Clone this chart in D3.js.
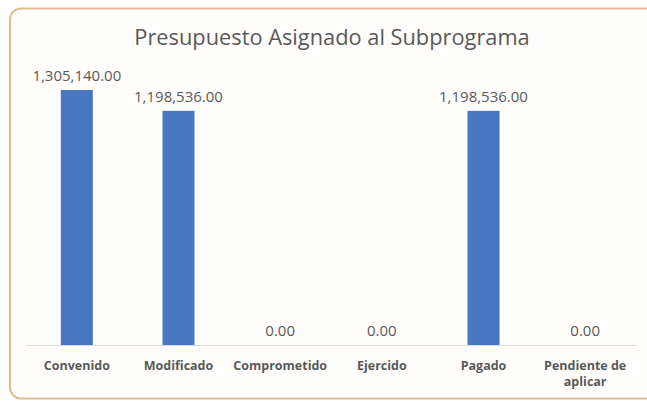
<!DOCTYPE html>
<html><head><meta charset="utf-8">
<script src="https://cdn.jsdelivr.net/npm/d3@7"></script>
<style>body{margin:0;background:#fff;overflow:hidden;}svg{display:block;}</style>
</head><body>
<script>
const categories = ["Convenido","Modificado","Comprometido","Ejercido","Pagado","Pendiente de aplicar"];
const values = [1305140.00, 1198536.00, 0, 0, 1198536.00, 0];
const title = "Presupuesto Asignado al Subprograma";
const yMax = 1400000;

const W = 647, H = 404;
const svg = d3.select("body").append("svg").attr("width", W).attr("height", H);

svg.append("rect").attr("x", 10).attr("y", 8.5).attr("width", 660).attr("height", 390)
  .attr("rx", 11).attr("fill", "#fffefc").attr("stroke", "#e3bb92").attr("stroke-width", 2);

const x = d3.scaleBand().domain(categories).range([26, 636]).paddingInner(0.685).paddingOuter(0.3425);
const y = d3.scaleLinear().domain([0, yMax]).range([345, 71.5]);

svg.append("text").attr("x", 332).attr("y", 45).attr("text-anchor", "middle")
  .attr("font-family", "Open Sans, sans-serif").attr("font-size", 21.8).attr("fill", "#595959")
  .text(title);

svg.selectAll("rect.bar").data(values).enter().append("rect").attr("class", "bar")
  .attr("x", (d, i) => x(categories[i])).attr("width", x.bandwidth())
  .attr("y", d => y(d)).attr("height", d => y(0) - y(d)).attr("fill", "#4677c0");

svg.append("line").attr("x1", 26).attr("x2", 636).attr("y1", y(0) + 0.5).attr("y2", y(0) + 0.5)
  .attr("stroke", "#d9d9d9").attr("stroke-width", 1);

const fmt = d3.format(",.2f");
svg.selectAll("text.lbl").data(values).enter().append("text").attr("class", "lbl")
  .attr("x", (d, i) => x(categories[i]) + x.bandwidth() / 2).attr("y", d => y(d) - 9)
  .attr("text-anchor", "middle").attr("font-family", "Open Sans, sans-serif").attr("font-size", 15)
  .attr("fill", "#595959").text(d => fmt(d));

const axis = d3.axisBottom(x).tickSize(0).tickPadding(0);
const g = svg.append("g").attr("transform", `translate(0,${y(0)})`).call(axis);
g.select(".domain").remove();
g.selectAll(".tick text").remove();
g.selectAll(".tick").each(function(d) {
  const t = d3.select(this).append("text").attr("text-anchor", "middle")
    .attr("font-family", "Open Sans, sans-serif").attr("font-size", 12.5).attr("font-weight", "bold")
    .attr("fill", "#595959").attr("y", 25);
  const parts = d === "Pendiente de aplicar" ? ["Pendiente de", "aplicar"] : [d];
  parts.forEach((p, i) => t.append("tspan").attr("x", 0).attr("dy", i ? 16 : 0).text(p));
});
</script>
</body></html>
